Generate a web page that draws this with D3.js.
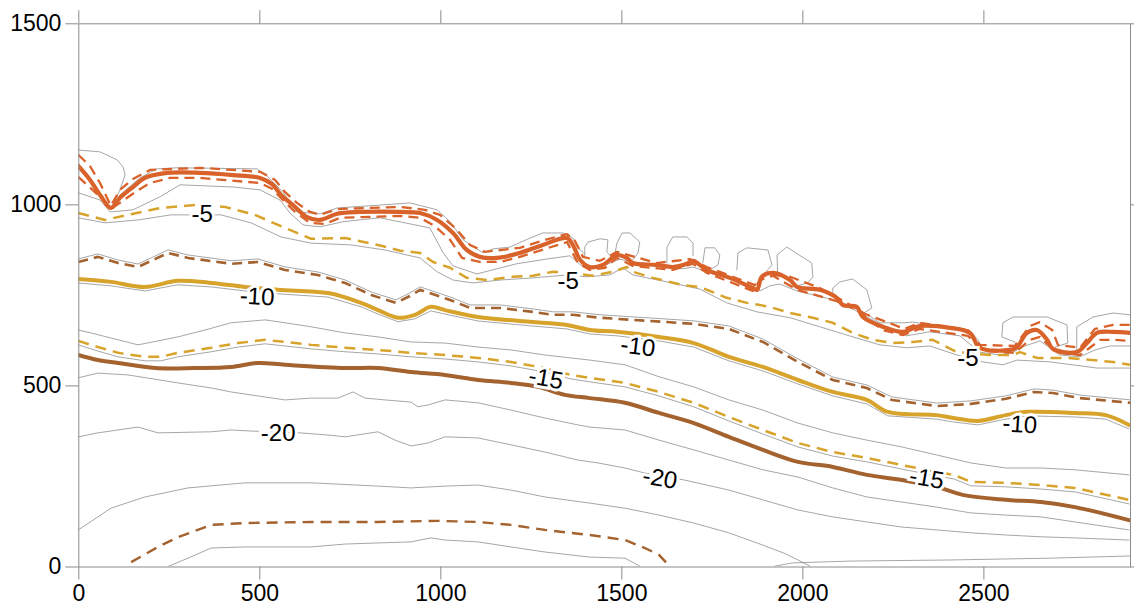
<!DOCTYPE html>
<html><head><meta charset="utf-8">
<script src="https://cdn.jsdelivr.net/npm/d3@7"></script>
<style>body{margin:0;background:#fff}svg{display:block}text{font-family:"Liberation Sans",Arial,sans-serif}</style>
</head><body><svg id="c" width="1134" height="607"></svg>
<script>
// ---- axis ticks ----
const xTicks = [0, 500, 1000, 1500, 2000, 2500];
const yTicks = [0, 500, 1000, 1500];

// ---- contour lines (x, y in data units) ----
const orangeSolid = [[0,1106],[32,1068],[60,1026],[90,990],[115,1018],[151,1048],[184,1073],[245,1087],[336,1087],[427,1081],[502,1073],[535,1056],[560,1026],[593,998],[632,965],[668,957],[715,974],[779,979],[889,979],[944,976],[991,957],[1035,921],[1073,874],[1109,855],[1156,852],[1220,866],[1283,888],[1350,907],[1366,888],[1386,847],[1413,827],[1449,833],[1488,860],[1515,852],[1532,838],[1598,833],[1642,827],[1681,836],[1698,844],[1736,819],[1800,797],[1863,769],[1875,764],[1888,800],[1919,811],[1966,791],[1985,772],[2048,764],[2095,742],[2112,722],[2150,717],[2167,689],[2222,662],[2277,648],[2324,664],[2408,659],[2463,645],[2490,604],[2573,598],[2593,606],[2620,645],[2648,653],[2676,626],[2692,601],[2758,592],[2786,617],[2814,645],[2858,648],[2905,645]];
const orangeDashUpper = [[0,1137],[32,1106],[60,1059],[90,996],[115,1040],[151,1070],[198,1095],[336,1101],[502,1090],[543,1068],[571,1034],[604,1004],[640,979],[668,971],[715,987],[889,993],[957,985],[999,971],[1041,935],[1082,888],[1123,869],[1220,880],[1289,902],[1350,918],[1372,899],[1394,855],[1441,844],[1488,869],[1598,838],[1689,849],[1736,827],[1869,777],[1896,808],[1966,800],[2048,769],[2117,731],[2172,698],[2283,656],[2324,673],[2457,653],[2490,612],[2587,609],[2628,664],[2656,675],[2690,653],[2706,612],[2767,604],[2808,656],[2858,667],[2905,667]];
const orangeDashLower = [[0,1076],[46,1034],[74,1007],[90,987],[115,1004],[157,1034],[198,1059],[253,1073],[336,1073],[502,1059],[535,1043],[565,1012],[599,979],[640,949],[681,946],[723,963],[889,968],[944,963],[985,940],[1027,902],[1060,852],[1109,841],[1165,841],[1220,855],[1289,877],[1350,896],[1361,874],[1380,838],[1413,819],[1455,825],[1488,852],[1532,830],[1642,819],[1698,836],[1736,811],[1863,761],[1883,791],[1919,803],[1985,764],[2095,733],[2150,708],[2222,653],[2277,639],[2324,656],[2457,637],[2504,595],[2587,590],[2628,626],[2656,634],[2676,615],[2711,590],[2767,584],[2794,604],[2822,626],[2858,626],[2905,623]];
const grayTopA = [[0,1150],[60,1145],[107,1123],[124,1103],[129,1081],[115,1040],[93,993]];
const grayTopB = [[93,993],[115,1026],[170,1073],[217,1098],[273,1101],[494,1098],[521,1079],[565,1034],[604,979],[668,974],[715,990],[833,998],[916,1004],[991,985],[1027,952],[1063,902],[1118,866],[1145,877],[1192,882],[1248,907],[1283,921],[1339,921],[1366,907],[1380,880],[1399,863]];
const loop1 = [[1399,858],[1399,882],[1408,896],[1441,905],[1463,902],[1460,869],[1474,852]];
const loop2 = [[1482,863],[1488,893],[1502,921],[1524,921],[1551,896],[1546,866],[1532,847]];
const loop3 = [[1626,838],[1626,882],[1642,910],[1681,910],[1698,893],[1698,858]];
const loop4 = [[1725,838],[1731,880],[1758,880],[1772,860],[1767,833],[1750,822]];
const loop5 = [[1819,819],[1822,866],[1847,880],[1905,874],[1916,833],[1888,800]];
const loop6 = [[1932,803],[1930,860],[1957,882],[2026,838],[2029,800],[2015,783],[1985,775]];
const loop7 = [[2084,747],[2084,769],[2104,786],[2139,794],[2178,764],[2192,714],[2167,698]];
const grayTopC = [[2186,692],[2214,673],[2277,673],[2305,675],[2388,662],[2463,650],[2485,626],[2496,606]];
const loop8 = [[2593,604],[2587,620],[2551,634],[2554,673],[2582,689],[2676,689],[2731,667],[2733,617],[2698,606]];
const loop9 = [[2758,595],[2758,662],[2803,689],[2858,700],[2905,695]];
const grayBelowOrange = [[0,1032],[60,1012],[88,979],[151,985],[226,1021],[281,1054],[427,1048],[502,1040],[557,1012],[585,976],[621,943],[668,938],[731,952],[833,963],[971,935],[1008,866],[1035,830],[1101,808],[1156,822],[1211,836],[1294,849],[1358,858],[1394,827],[1449,830],[1496,849],[1543,836],[1598,830],[1670,822],[1698,827],[1753,808],[1827,786],[1883,761],[1910,775],[1938,780],[1985,761],[2076,739],[2139,711],[2214,670],[2288,637],[2352,648],[2435,637],[2490,592],[2546,584],[2582,592],[2615,609],[2656,623],[2684,604],[2711,584],[2767,579],[2808,598],[2849,609],[2905,609]];
const yellowDash5 = [[0,976],[74,957],[137,971],[228,990],[322,998],[405,993],[488,971],[571,935],[643,905],[737,907],[828,888],[889,872],[944,866],[980,841],[1027,825],[1073,797],[1129,791],[1200,800],[1256,803],[1311,814],[1350,811],[1421,803],[1477,814],[1515,827],[1532,814],[1587,797],[1670,777],[1717,772],[1791,742],[1847,728],[1910,717],[1966,700],[2029,687],[2084,673],[2139,645],[2194,626],[2250,617],[2305,620],[2360,626],[2427,592],[2518,584],[2582,584],[2601,592],[2648,576],[2731,576],[2858,565],[2905,557]];
const grayBelowYellow5 = [[0,963],[74,949],[165,957],[256,971],[394,971],[477,949],[560,910],[643,893],[753,888],[847,874],[944,852],[991,814],[1035,791],[1090,783],[1165,791],[1256,797],[1350,805],[1405,800],[1468,805],[1504,825],[1532,805],[1626,786],[1717,766],[1791,728],[1875,703],[1966,687],[2048,662],[2123,639],[2214,612],[2288,604],[2352,609],[2427,584],[2498,565],[2554,557],[2593,570],[2684,565],[2814,548],[2905,548]];
const brownDashUpper = [[0,841],[54,855],[110,838],[165,827],[248,866],[303,852],[422,836],[496,841],[571,819],[662,805],[737,783],[809,750],[877,728],[916,747],[944,764],[1027,736],[1082,714],[1165,714],[1256,703],[1311,695],[1366,695],[1441,687],[1532,681],[1626,675],[1700,670],[1797,656],[1891,620],[1988,565],[2084,515],[2178,493],[2247,460],[2371,443],[2465,449],[2562,463],[2640,482],[2692,479],[2767,465],[2905,452]];
const yellowSolid10 = [[0,794],[90,786],[184,772],[275,789],[367,783],[460,772],[552,764],[690,755],[781,728],[828,708],[883,687],[930,695],[974,717],[1013,708],[1104,689],[1256,675],[1350,667],[1413,653],[1488,648],[1604,634],[1700,617],[1797,579],[1891,551],[1988,515],[2084,482],[2178,460],[2236,427],[2371,418],[2418,410],[2485,402],[2562,418],[2620,427],[2753,424],[2838,418],[2902,391]];
const grayMid = [[0,653],[35,645],[90,631],[165,612],[275,634],[350,653],[422,673],[516,681],[571,673],[643,662],[737,645],[828,634],[919,620],[1013,617],[1104,606],[1195,598],[1289,584],[1413,570],[1510,557],[1604,524],[1700,496],[1797,460],[1891,432],[1988,396],[2084,369],[2178,349],[2275,330],[2371,308],[2465,286],[2562,272],[2659,272],[2753,267],[2902,253]];
const yellowDash15 = [[0,623],[54,606],[110,590],[184,579],[228,579],[275,590],[367,604],[441,617],[516,626],[571,620],[643,612],[737,604],[828,598],[919,590],[1013,584],[1104,576],[1195,565],[1289,548],[1361,529],[1413,521],[1510,507],[1604,482],[1700,452],[1797,413],[1891,377],[1988,341],[2084,316],[2178,300],[2275,280],[2371,261],[2418,253],[2465,234],[2562,231],[2659,225],[2753,217],[2902,184]];
const brownSolid15 = [[0,584],[54,570],[110,562],[212,548],[322,548],[422,551],[496,562],[571,557],[737,548],[828,548],[919,537],[1013,529],[1104,515],[1195,507],[1270,496],[1344,474],[1413,465],[1510,452],[1604,424],[1700,396],[1797,358],[1891,322],[1988,289],[2084,275],[2178,253],[2275,239],[2371,220],[2446,197],[2562,184],[2659,178],[2753,164],[2902,128]];
const grayBelowBrown = [[0,521],[54,534],[137,529],[275,507],[367,493],[422,482],[516,468],[571,460],[643,465],[717,465],[759,482],[792,465],[847,460],[919,454],[938,441],[966,446],[1013,460],[1104,452],[1195,432],[1289,410],[1380,391],[1413,385],[1510,377],[1604,349],[1700,322],[1797,294],[1891,267],[1988,247],[2084,217],[2178,192],[2275,178],[2371,164],[2465,148],[2562,142],[2659,137],[2753,123],[2902,101]];
const gray20 = [[0,358],[54,369],[165,385],[220,369],[367,372],[422,377],[477,374],[612,369],[690,363],[737,358],[828,372],[875,349],[919,333],[966,341],[1013,358],[1104,355],[1195,336],[1289,316],[1380,294],[1435,286],[1510,272],[1565,258],[1673,239],[1797,211],[1891,184],[1988,156],[2084,137],[2178,123],[2275,109],[2371,101],[2465,93],[2562,87],[2659,82],[2753,79],[2902,73]];
const grayArc = [[0,101],[90,161],[184,192],[303,217],[460,231],[643,231],[828,222],[919,217],[1013,222],[1104,225],[1195,211],[1289,192],[1413,175],[1510,161],[1604,142],[1700,120],[1797,93],[1891,59],[1949,37],[1988,18],[2021,1]];
const grayLowRight = [[1924,1],[1974,10],[2131,15],[2408,18],[2684,23],[2905,29]];
const brownDashLower = [[146,12],[220,54],[275,81],[367,115],[460,120],[643,123],[828,123],[994,126],[1104,123],[1195,115],[1289,101],[1413,87],[1510,73],[1565,51],[1604,32],[1634,0]];
const grayBottom = [[248,0],[303,23],[367,51],[460,54],[643,54],[737,62],[828,65],[919,68],[974,79],[1013,73],[1104,68],[1195,54],[1289,40],[1413,26],[1510,23],[1551,1]];

// ---- contour labels ----
const labelText = ["-5", "-5", "-5", "-10", "-10", "-10", "-15", "-15", "-20", "-20"];
const labelX    = [342, 1353, 2457, 494, 1546, 2601, 1292, 2344, 552, 1607];
const labelY    = [974, 789, 576, 747, 609, 394, 521, 245, 369, 245];

// ---- drawing ----
const W = 1134, H = 607;
const m = {l: 78.3, r: 4, t: 23.3, b: 40.5};
const x = d3.scaleLinear().domain([0, 2905]).range([m.l, W - m.r]);
const y = d3.scaleLinear().domain([0, 1500]).range([H - m.b, m.t]);
const svg = d3.select("#c");

const ORANGE = "#d9622b", YELLOW = "#d8a32b", BROWN = "#a3622e", GRAY = "#8f8f8f";

svg.append("defs").append("clipPath").attr("id", "clip")
  .append("rect").attr("x", m.l).attr("y", m.t).attr("width", W - m.r - m.l).attr("height", H - m.b - m.t);

const plot = svg.append("g").attr("clip-path", "url(#clip)");
const lin = d3.line().x(d => x(d[0])).y(d => y(d[1]));
const smooth = d3.line().x(d => x(d[0])).y(d => y(d[1])).curve(d3.curveCatmullRom.alpha(0.5));

function draw(g, data, o) {
  g.append("path").attr("d", (o.smooth ? smooth : lin)(data))
    .attr("fill", "none").attr("stroke", o.c).attr("stroke-width", o.w)
    .attr("stroke-linejoin", "round").attr("stroke-linecap", o.dash ? "butt" : "round")
    .attr("stroke-dasharray", o.dash || null)
    .attr("transform", o.dy ? `translate(0,${o.dy})` : null);
}

// thin grey contours
const grays = [grayTopA, grayTopB, loop1, loop2, loop3, loop4, loop5, loop6, loop7, grayTopC, loop8, loop9,
  grayBelowOrange, grayBelowYellow5, grayMid, grayBelowBrown, gray20, grayArc, grayLowRight, grayBottom];
grays.forEach(d => draw(plot, d, {c: GRAY, w: 0.8}));
draw(plot, brownDashUpper, {c: GRAY, w: 0.8, dy: -3});
draw(plot, yellowSolid10, {c: GRAY, w: 0.8, dy: 4});
draw(plot, yellowDash15, {c: GRAY, w: 0.8, dy: 4});

// dashed coloured contours
draw(plot, yellowDash5, {c: YELLOW, w: 2.5, dash: "11,7"});
draw(plot, yellowDash15, {c: YELLOW, w: 2.5, dash: "11,7"});
draw(plot, brownDashUpper, {c: BROWN, w: 2.6, dash: "10,6"});
draw(plot, brownDashLower, {c: BROWN, w: 2.4, dash: "11,7"});
draw(plot, orangeDashUpper, {c: ORANGE, w: 2.3, dash: "10,6"});
draw(plot, orangeDashLower, {c: ORANGE, w: 2.3, dash: "10,6"});

// labels
const angles = [0, 0, 0, 3, 7, 4, 10, 10, 0, 10];
const lab = svg.append("g");
labelText.forEach((t, i) => {
  lab.append("text").text(t)
    .attr("transform", `translate(${x(labelX[i])},${y(labelY[i])}) rotate(${angles[i]})`)
    .attr("text-anchor", "middle").attr("dominant-baseline", "central")
    .attr("font-size", 24).attr("fill", "#000")
    .attr("stroke", "#fff").attr("stroke-width", 6).attr("paint-order", "stroke");
});

// solid coloured contours
draw(plot, yellowSolid10, {c: YELLOW, w: 4, smooth: true});
draw(plot, brownSolid15, {c: BROWN, w: 4, smooth: true});
draw(plot, orangeSolid, {c: ORANGE, w: 4.2, smooth: true});

// axes
function styleAxis(g) {
  g.select(".domain").attr("stroke", "#8a8a8a");
  g.selectAll(".tick line").attr("stroke", "#8a8a8a");
  g.selectAll(".tick text").attr("font-size", 23).attr("fill", "#000")
    .attr("font-family", '"Liberation Sans", Arial, sans-serif');
}
const fmt = d3.format("d");
svg.append("g").attr("transform", `translate(0,${y(0)})`)
  .call(d3.axisBottom(x).tickValues(xTicks).tickFormat(fmt).tickSize(13).tickSizeOuter(0).tickPadding(5)).call(styleAxis);
svg.append("g").attr("transform", `translate(0,${y(1500)})`)
  .call(d3.axisTop(x).tickValues(xTicks).tickSize(13).tickSizeOuter(0).tickFormat("")).call(styleAxis);
svg.append("g").attr("transform", `translate(${x(0)},0)`)
  .call(d3.axisLeft(y).tickValues(yTicks).tickFormat(fmt).tickSize(13).tickSizeOuter(0).tickPadding(4)).call(styleAxis);
svg.append("g").attr("transform", `translate(${x(2905)},0)`)
  .call(d3.axisRight(y).tickValues(yTicks).tickSize(13).tickSizeOuter(0).tickFormat("")).call(styleAxis);
</script></body></html>
